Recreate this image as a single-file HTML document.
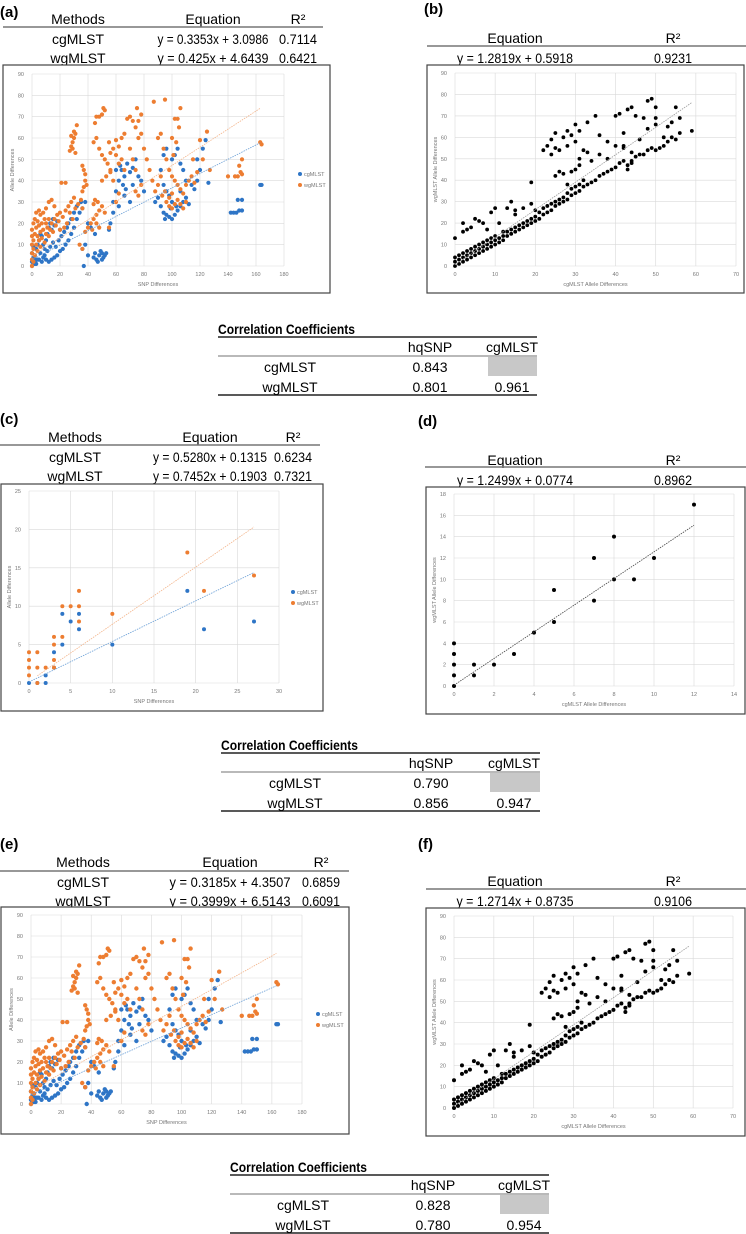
<!DOCTYPE html>
<html><head><meta charset="utf-8">
<style>
html,body{margin:0;padding:0;background:#fff;}
svg{display:block;font-family:"Liberation Sans",sans-serif;}
</style></head>
<body>
<svg id="fig" width="746" height="1234" viewBox="0 0 746 1234" xmlns="http://www.w3.org/2000/svg">
<g font-weight="bold" font-size="15" fill="#000">
<text x="0" y="17">(a)</text>
<text x="424" y="14">(b)</text>
<text x="0" y="424">(c)</text>
<text x="418" y="426">(d)</text>
<text x="0" y="849">(e)</text>
<text x="418" y="849">(f)</text>
</g>
<g id="tables" font-size="14" fill="#000" text-anchor="middle"></g>
<g id="charts"></g>
</svg>
<script>
// ---------- data ----------
const cgA = [[0,0],[1,1],[2,2],[3,1],[5,3],[8,4],[10,3],[12,2],[14,3],[16,4],[18,5],[20,7],[22,8],[24,10],[26,12],[28,15],[30,18],[32,22],[34,25],[36,27],[30,25],[28,22],[26,20],[32,28],[35,30],[38,30],[40,20],[42,18],[45,15],[38,10],[36,8],[40,5],[37,0],[44,4],[46,3],[48,5],[50,6],[52,5],[47,2],[49,7],[51,4],[53,6],[45,6],[50,3],
[55,17],[58,30],[60,35],[62,40],[64,45],[66,42],[68,48],[70,44],[72,46],[74,50],[76,42],[78,40],[60,45],[63,47],[65,38],[67,36],[70,30],[58,25],[56,20],[62,28],[66,33],[72,38],[80,35],
[88,30],[90,32],[92,28],[94,25],[95,22],[96,24],[98,23],[100,22],[102,24],[104,26],[106,28],[108,30],[110,32],[112,29],[100,30],[98,33],[96,35],[94,38],[92,45],[94,52],[96,55],[100,50],[102,52],[104,55],[106,48],[108,45],[110,40],[114,38],[116,36],[118,40],[120,45],[122,55],[124,59],[118,50],[126,39],[106,35],[103,28],[99,27],
[142,25],[144,25],[146,25],[148,26],[150,26],[147,31],[150,31],[163,38],[164,38],
[2,5],[3,8],[4,10],[5,12],[6,15],[7,14],[8,10],[9,8],[10,12],[11,15],[12,18],[13,20],[14,17],[15,22],[16,19],[18,21],[20,17],[4,3],[6,6],[7,2],[9,5],[11,7],[13,9],[15,11],[17,9],[19,12],[21,14],[23,16],[25,18],[1,4],[2,1],[3,3],[0,2],[0,6],[1,9]];
const wgA = [[0,0],[0,3],[0,6],[0,10],[0,14],[0,17],[1,2],[1,8],[1,12],[1,20],[2,5],[2,15],[2,22],[3,10],[3,18],[3,25],[4,7],[4,14],[4,21],[5,12],[5,19],[5,26],[6,9],[6,16],[6,24],[7,13],[7,20],[8,17],[8,25],[9,11],[9,22],[10,15],[10,20],[10,27],[11,18],[12,14],[12,22],[12,30],[13,17],[14,20],[14,31],[15,16],[16,22],[16,28],[17,19],[18,24],[19,21],[20,17],[20,25],[21,39],[24,39],[22,23],[24,26],[26,28],[28,30],[30,32],[27,25],[25,20],[23,18],[29,22],[31,27],[33,29],[35,31],[36,27],
[27,54],[28,56],[29,58],[30,60],[31,62],[28,61],[30,63],[32,66],[29,55],[31,53],
[36,35],[37,37],[38,40],[38,43],[37,45],[36,47],[39,38],[38,16],[40,18],[42,20],[44,22],[46,24],[48,26],[50,28],[46,20],[48,18],[52,25],[55,18],[44,29],[45,31],[47,30],[43,17],[34,10],[36,8],
[45,67],[46,70],[48,70],[50,71],[52,73],[51,74],[44,58],[46,60],[48,55],[50,52],[52,50],[54,48],[56,45],[50,40],[53,42],[55,58],[56,53],[58,55],[60,52],[62,56],[64,60],[66,62],[60,59],[62,48],[64,50],[66,45],[68,69],[70,70],[72,68],[74,65],[76,68],[78,71],[75,74],[70,55],[72,50],[74,45],[76,60],[78,62],[80,55],[82,50],[84,45],[86,40],[88,35],[90,38],[92,42],[87,77],[95,78],[90,60],[92,62],[94,55],[96,50],[98,45],[100,42],[102,40],[104,38],[106,36],[108,34],[110,38],[100,60],[102,69],[104,69],[106,74],[105,65],[103,58],[101,52],[96,30],[98,28],[100,27],[102,29],[104,31],[106,29],[108,27],[110,30],[98,32],[100,34],[95,35],[93,33],[112,40],[114,42],[116,39],[118,44],[120,59],[122,50],[125,63],[127,45],[115,50],[145,42],[147,42],[149,44],[148,47],[150,43],[140,42],[150,50],[163,58],[164,57],[56,44],[58,40],[74,35],[76,33],[78,38],[60,30],[62,34]];
const ptsB = [[0,0],[0,2],[0,4],[1,1],[1,3],[1,5],[2,2],[2,4],[2,6],[3,3],[3,5],[3,7],[4,4],[4,6],[4,8],[5,5],[5,7],[5,9],[6,6],[6,8],[6,10],[7,7],[7,9],[7,11],[8,8],[8,10],[8,12],[9,9],[9,11],[9,13],[10,10],[10,12],[10,14],[11,11],[11,13],[12,12],[12,14],[12,16],[13,14],[13,16],[14,15],[14,17],[15,16],[15,18],[16,17],[16,19],[17,18],[17,20],[18,19],[18,21],[19,20],[19,22],[20,21],[20,23],[21,22],[21,25],[22,24],[22,27],[23,25],[23,28],[24,26],[24,29],[25,28],[25,30],[26,29],[26,31],[27,30],[27,32],[28,31],[28,34],[29,33],[29,36],[30,34],[30,37],[31,35],[31,38],[32,37],[32,40],[33,38],[34,39],[35,40],[36,42],[37,43],[38,44],[39,45],[40,46],[41,48],[42,49],[43,47],[44,49],[45,51],[46,52],[47,52],[48,54],[49,55],[50,54],[51,55],[52,56],[53,58],[54,60],[55,59],[56,62],[59,63],
[0,13],[2,16],[2,20],[3,17],[4,18],[5,22],[6,21],[7,20],[8,17],[9,25],[10,27],[11,20],[13,27],[14,30],[15,24],[15,26],[17,27],[19,39],[19,29],[20,26],[22,54],[23,56],[24,52],[24,59],[25,62],[25,55],[26,54],[27,60],[28,63],[28,56],[29,61],[30,58],[30,66],[31,63],[32,54],[33,67],[35,70],[36,61],[38,58],[40,70],[41,71],[42,62],[43,73],[44,74],[42,56],[45,70],[47,69],[48,77],[49,78],[50,74],[50,69],[50,66],[48,64],[46,59],[44,53],[52,60],[53,65],[54,67],[55,74],[56,69],[25,42],[26,44],[27,43],[28,38],[29,44],[30,45],[31,47],[31,50],[33,53],[34,49],[36,52],[38,50],[40,56],[42,55],[43,45],[44,48]];
const cgC = [[0,0],[1,0],[2,0],[2,1],[3,2],[3,4],[4,5],[4,9],[5,8],[6,7],[6,9],[10,5],[19,12],[21,7],[27,8]];
const wgC = [[0,1],[0,2],[0,3],[0,4],[1,0],[1,2],[1,4],[2,2],[3,2],[3,3],[3,5],[3,6],[4,6],[4,10],[5,10],[6,8],[6,10],[6,12],[10,9],[19,17],[21,12],[27,14]];
const ptsD = [[0,0],[0,1],[0,2],[0,3],[0,4],[1,1],[1,2],[2,2],[3,3],[4,5],[5,6],[5,9],[7,8],[7,12],[8,10],[8,14],[9,10],[10,12],[12,17]];
const fitA = [[0.3353,3.0986],[0.425,4.6439]], fitB=[1.2819,0.5918];
const fitC = [[0.5280,0.1315],[0.7452,0.1903]], fitD=[1.2499,0.0774];
const fitE = [[0.3185,4.3507],[0.3999,6.5143]], fitF=[1.2714,0.8735];

const NS="http://www.w3.org/2000/svg";
function mk(tag,attrs,parent,txt){const e=document.createElementNS(NS,tag);for(const k in attrs)e.setAttribute(k,attrs[k]);if(txt!==undefined)e.textContent=txt;parent.appendChild(e);return e;}
const charts=document.getElementById('charts');
const tables=document.getElementById('tables');

function chart(o){
  const g=mk('g',{},charts);
  
  
  const box=mk('rect',{x:o.box[0],y:o.box[1],width:o.box[2],height:o.box[3],fill:'#fff',stroke:'#444','stroke-width':1.2},g);
  
  
  const sx=v=>o.px0+(v-o.xmin)/(o.xmax-o.xmin)*(o.px1-o.px0);
  const sy=v=>o.py0-(v)/(o.ymax)*(o.py0-o.py1);
  for(let v=0;v<=o.xmax+1e-9;v+=o.xstep){
    const l=mk('line',{x1:sx(v),x2:sx(v),y1:o.py0,y2:o.py1,stroke:'#d9d9d9','stroke-width':0.6},g);
    
    
    const t=mk('text',{x:sx(v),y:o.py0+10,'font-size':5.5,fill:'#777','text-anchor':'middle'},g,String(v));
    
    
  }
  for(let v=0;v<=o.ymax+1e-9;v+=o.ystep){
    const l=mk('line',{x1:o.px0,x2:o.px1,y1:sy(v),y2:sy(v),stroke:'#d9d9d9','stroke-width':0.6},g);
    
    
    const t=mk('text',{x:o.px0-8,y:sy(v)+2,'font-size':5.5,fill:'#777','text-anchor':'end'},g,String(v));
    
    
  }
  const xt=mk('text',{x:(o.px0+o.px1)/2,y:o.py0+20,'font-size':5.5,fill:'#777','text-anchor':'middle'},g,o.xlabel);
  
  
  const yx=o.px0-18, yy=(o.py0+o.py1)/2;
  const yt=mk('text',{x:yx,y:yy,'font-size':5.5,fill:'#777','text-anchor':'middle',transform:`rotate(-90 ${yx} ${yy})`},g,o.ylabel);
  
  
  o.series.forEach((s,i)=>{
    s.pts.forEach(p=>{
      const c=mk('circle',{cx:sx(p[0]),cy:sy(p[1]),r:o.r,fill:s.color},g);
      
      
    });
  });
  o.series.forEach(s=>{
    const [m,b]=s.fit;
    const l=mk('line',{x1:sx(s.fr[0]),y1:sy(m*s.fr[0]+b),x2:sx(s.fr[1]),y2:sy(m*s.fr[1]+b),stroke:s.lineColor,'stroke-width':0.8,'stroke-dasharray':'1.5,1'},g);
    
    
  });
  if(o.legend){
    o.series.forEach((s,i)=>{
      const y=o.legend[1]+i*11;
      const c=mk('circle',{cx:o.legend[0],cy:y,r:2,fill:s.color},g);
      
      
      const t=mk('text',{x:o.legend[0]+4,y:y+2,'font-size':5.5,fill:'#777'},g,s.id);
      
      
    });
  }
}
const BL='#2e75c6', OR='#ed7d31';
function txt(x,y,s,name,len){
  const a={x:x,y:y};
  if(len){a.textLength=len;a.lengthAdjust='spacingAndGlyphs';}
  const e=mk('text',a,tables,s);
  
  
}
function rule(x0,x1,y,c,w){
  const l=mk('line',{x1:x0,x2:x1,y1:y,y2:y,stroke:c,'stroke-width':w},tables);
  
  
}
// cx: [methods, equation, r2] centres; hc: header centre y
function threeCol(x0,x1,cx,hc,lineY,r2,eqs,eqLen){
  const ys=[hc+5,hc+25,hc+44];
  txt(cx[0],ys[0],'Methods','table-header');
  txt(cx[1],ys[0],'Equation','table-header');
  txt(cx[2],ys[0],'R²','table-header');
  txt(cx[0],ys[1],'cgMLST','table-cell');
  txt(cx[1],ys[1],eqs[0],'table-cell',eqLen);
  txt(cx[2],ys[1],r2[0],'table-cell',38);
  txt(cx[0],ys[2],'wgMLST','table-cell');
  txt(cx[1],ys[2],eqs[1],'table-cell',eqLen);
  txt(cx[2],ys[2],r2[1],'table-cell',38);
  rule(x0,x1,lineY,'#777',1.5);
}
function twoCol(x0,x1,hc,lineY,rowC,eq,r2,eqLen){
  txt(515,hc+5,'Equation','table-header');
  txt(673,hc+5,'R²','table-header');
  txt(515,rowC+5,eq,'table-cell',eqLen);
  txt(673,rowC+5,r2,'table-cell',38);
  rule(x0,x1,lineY,'#777',1.5);
}
function corr(T,x0,x1,rl,hq,cg,v){
  const t=mk('text',{x:x0,y:T+5,'font-weight':'bold','text-anchor':'start',textLength:137,lengthAdjust:'spacingAndGlyphs'},tables,'Correlation Coefficients');
  
  
  rule(x0,x1,T+8,'#222',1.5);
  rule(x0,x1,T+27,'#444',0.8);
  rule(x0,x1,T+66,'#222',1.5);
  const r=mk('rect',{x:cg-24,y:T+28,width:x1-(cg-24),height:19,fill:'#c8c8c8'},tables);
  
  
  txt(hq,T+23,'hqSNP','table-header');
  txt(cg,T+23,'cgMLST','table-header');
  txt(rl,T+43,'cgMLST','correlation-cell');
  txt(hq,T+43,v[0],'correlation-cell');
  txt(rl,T+63,'wgMLST','correlation-cell');
  txt(hq,T+63,v[1],'correlation-cell');
  txt(cg,T+63,v[2],'correlation-cell');
}

threeCol(3,323,[78,213,298],19,27,['0.7114','0.6421'],['y = 0.3353x + 3.0986','y = 0.425x + 4.6439'],111);
twoCol(427,746,38,46,58,'y = 1.2819x + 0.5918','0.9231',116);
corr(329,218,537,290,430,512,['0.843','0.801','0.961']);
threeCol(0,320,[75,210,293],437,445,['0.6234','0.7321'],['y = 0.5280x + 0.1315','y = 0.7452x + 0.1903'],114);
twoCol(425,746,460,467,480,'y = 1.2499x + 0.0774','0.8962',116);
corr(745,221,540,295,431,514,['0.790','0.856','0.947']);
threeCol(0,349,[83,230,321],862,871,['0.6859','0.6091'],['y = 0.3185x + 4.3507','y = 0.3999x + 6.5143'],121);
twoCol(426,746,881,889,901,'y = 1.2714x + 0.8735','0.9106',117);
corr(1167,230,549,303,433,524,['0.828','0.780','0.954']);

chart({name:'chart-a',box:[3,65,327,228],px0:32,px1:284,py0:266,py1:74,xmin:0,xmax:180,xstep:20,ymax:90,ystep:10,r:2.1,xlabel:'SNP Differences',ylabel:'Allele Differences',legend:[300,174],
 series:[{id:'cgMLST',pts:cgA,color:BL,lineColor:'#6a9fd6',fit:fitA[0],fr:[0,163]},{id:'wgMLST',pts:wgA,color:OR,lineColor:'#f3b48a',fit:fitA[1],fr:[0,163]}]});
chart({name:'chart-b',box:[427,65,317,228],px0:455,px1:736,py0:266,py1:73,xmin:0,xmax:70,xstep:10,ymax:90,ystep:10,r:1.9,xlabel:'cgMLST Allele Differences',ylabel:'wgMLST Allele Differences',
 series:[{id:'points',pts:ptsB,color:'#000',lineColor:'#999',fit:fitB,fr:[0,59]}]});
chart({name:'chart-c',box:[1,484,322,227],px0:29,px1:279,py0:683,py1:491,xmin:0,xmax:30,xstep:5,ymax:25,ystep:5,r:2,xlabel:'SNP Differences',ylabel:'Allele Differences',legend:[293,592],
 series:[{id:'cgMLST',pts:cgC,color:BL,lineColor:'#6a9fd6',fit:fitC[0],fr:[0,27]},{id:'wgMLST',pts:wgC,color:OR,lineColor:'#f3b48a',fit:fitC[1],fr:[1,27]}]});
chart({name:'chart-d',box:[426,487,319,227],px0:454,px1:734,py0:686,py1:494,xmin:0,xmax:14,xstep:2,ymax:18,ystep:2,r:2,xlabel:'cgMLST Allele Differences',ylabel:'wgMLST Allele Differences',
 series:[{id:'points',pts:ptsD,color:'#000',lineColor:'#444',fit:fitD,fr:[0,12]}]});
chart({name:'chart-e',box:[1,907,348,227],px0:31,px1:302,py0:1104,py1:915,xmin:0,xmax:180,xstep:20,ymax:90,ystep:10,r:2.2,xlabel:'SNP Differences',ylabel:'Allele Differences',legend:[318,1014],
 series:[{id:'cgMLST',pts:cgA,color:BL,lineColor:'#6a9fd6',fit:fitE[0],fr:[0,163]},{id:'wgMLST',pts:wgA,color:OR,lineColor:'#f3b48a',fit:fitE[1],fr:[0,163]}]});
chart({name:'chart-f',box:[426,908,319,228],px0:454,px1:733,py0:1108,py1:916,xmin:0,xmax:70,xstep:10,ymax:90,ystep:10,r:2,xlabel:'cgMLST Allele Differences',ylabel:'wgMLST Allele Differences',
 series:[{id:'points',pts:ptsB,color:'#000',lineColor:'#999',fit:fitF,fr:[0,59]}]});
</script>
</body></html>
